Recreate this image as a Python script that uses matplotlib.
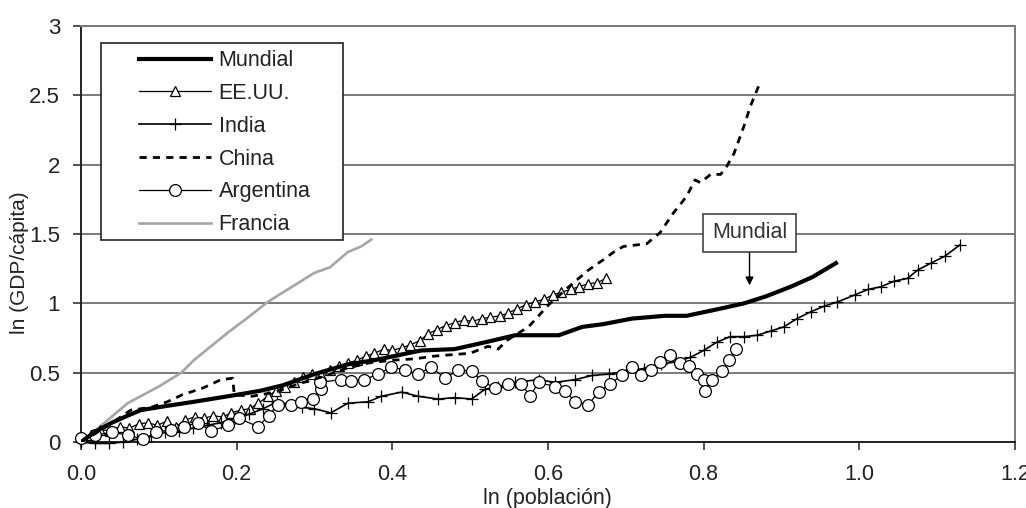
import matplotlib.pyplot as plt
from matplotlib.patches import Rectangle

plt.rcParams["font.family"] = ["Liberation Sans", "DejaVu Sans"]

# ln(población) vs ln(GDP/cápita), relative to the starting year of each series
mundial_x = [0.000, 0.020, 0.040, 0.060, 0.077, 0.110, 0.145, 0.189, 0.231, 0.260,
             0.300, 0.343, 0.377, 0.437, 0.480, 0.520, 0.558, 0.614, 0.644, 0.671,
             0.708, 0.750, 0.778, 0.820, 0.852, 0.880, 0.912, 0.940, 0.970]
mundial_y = [0.00, 0.08, 0.14, 0.19, 0.23, 0.26, 0.29, 0.33, 0.37, 0.41,
             0.49, 0.56, 0.59, 0.66, 0.67, 0.72, 0.77, 0.77, 0.83, 0.85,
             0.89, 0.91, 0.91, 0.96, 1.00, 1.05, 1.12, 1.19, 1.29]

eeuu_x = [0.000, 0.013, 0.025, 0.037, 0.050, 0.062, 0.074, 0.086, 0.098, 0.110,
          0.122, 0.134, 0.146, 0.158, 0.170, 0.182, 0.193, 0.205, 0.217, 0.228,
          0.240, 0.251, 0.262, 0.274, 0.285, 0.297, 0.309, 0.320, 0.332, 0.343,
          0.355, 0.366, 0.377, 0.389, 0.400, 0.412, 0.423, 0.435, 0.446, 0.457,
          0.469, 0.480, 0.492, 0.503, 0.515, 0.526, 0.538, 0.549, 0.560, 0.572,
          0.583, 0.595, 0.606, 0.617, 0.629, 0.640, 0.651, 0.663, 0.675]
eeuu_y = [0.00, 0.05, 0.09, 0.08, 0.11, 0.10, 0.13, 0.14, 0.12, 0.15,
          0.11, 0.16, 0.18, 0.17, 0.19, 0.18, 0.21, 0.23, 0.24, 0.28,
          0.33, 0.37, 0.40, 0.43, 0.47, 0.49, 0.48, 0.52, 0.55, 0.57,
          0.59, 0.62, 0.64, 0.67, 0.66, 0.68, 0.70, 0.73, 0.78, 0.81,
          0.84, 0.86, 0.88, 0.87, 0.89, 0.90, 0.91, 0.93, 0.96, 0.99,
          1.01, 1.03, 1.06, 1.08, 1.10, 1.12, 1.14, 1.15, 1.18]

india_x = [0.000, 0.018, 0.036, 0.054, 0.072, 0.090, 0.108, 0.126, 0.144, 0.162,
           0.180, 0.198, 0.216, 0.234, 0.252, 0.268, 0.284, 0.300, 0.321, 0.343,
           0.369, 0.386, 0.412, 0.433, 0.459, 0.480, 0.502, 0.519, 0.536, 0.558,
           0.588, 0.609, 0.635, 0.657, 0.678, 0.700, 0.723, 0.745, 0.765, 0.783,
           0.800, 0.817, 0.834, 0.852, 0.869, 0.886, 0.903, 0.920, 0.938, 0.955,
           0.972, 0.994, 1.011, 1.028, 1.045, 1.062, 1.075, 1.092, 1.110, 1.129]
india_y = [0.00, -0.01, -0.01, 0.00, 0.02, 0.04, 0.07, 0.08, 0.10, 0.12,
           0.14, 0.17, 0.20, 0.24, 0.29, 0.27, 0.25, 0.24, 0.21, 0.28,
           0.29, 0.33, 0.36, 0.33, 0.31, 0.32, 0.31, 0.38, 0.40, 0.43,
           0.45, 0.43, 0.45, 0.48, 0.49, 0.51, 0.53, 0.56, 0.58, 0.61,
           0.66, 0.72, 0.76, 0.76, 0.77, 0.80, 0.83, 0.89, 0.94, 0.98,
           1.01, 1.06, 1.10, 1.12, 1.16, 1.18, 1.24, 1.29, 1.34, 1.42]

china_x = [0.000, 0.030, 0.064, 0.090, 0.111, 0.130, 0.157, 0.180, 0.195, 0.197,
           0.220, 0.250, 0.280, 0.310, 0.340, 0.370, 0.400, 0.429, 0.455, 0.500,
           0.523, 0.536, 0.549, 0.575, 0.601, 0.627, 0.652, 0.670, 0.687, 0.697,
           0.727, 0.744, 0.761, 0.778, 0.789, 0.796, 0.809, 0.822, 0.830, 0.839,
           0.852, 0.860, 0.871]
china_y = [0.00, 0.10, 0.23, 0.25, 0.29, 0.34, 0.39, 0.45, 0.46, 0.34,
           0.33, 0.36, 0.42, 0.47, 0.53, 0.57, 0.59, 0.60, 0.62, 0.64,
           0.69, 0.67, 0.74, 0.83, 0.99, 1.12, 1.24, 1.31, 1.38, 1.41,
           1.43, 1.51, 1.65, 1.77, 1.89, 1.87, 1.93, 1.93, 1.99, 2.08,
           2.28, 2.42, 2.57]

argentina_x = [0.000, 0.018, 0.040, 0.060, 0.080, 0.097, 0.116, 0.132, 0.150, 0.167,
               0.189, 0.203, 0.228, 0.241, 0.253, 0.270, 0.283, 0.298, 0.308, 0.307,
               0.334, 0.347, 0.364, 0.382, 0.399, 0.416, 0.433, 0.450, 0.468, 0.485,
               0.502, 0.515, 0.532, 0.549, 0.566, 0.577, 0.588, 0.609, 0.622, 0.635,
               0.652, 0.665, 0.680, 0.695, 0.708, 0.720, 0.733, 0.744, 0.757, 0.770,
               0.781, 0.791, 0.800, 0.802, 0.811, 0.824, 0.832, 0.842]
argentina_y = [0.03, 0.05, 0.07, 0.05, 0.02, 0.07, 0.09, 0.11, 0.14, 0.08,
               0.12, 0.17, 0.11, 0.19, 0.27, 0.27, 0.29, 0.31, 0.38, 0.43,
               0.45, 0.44, 0.45, 0.49, 0.54, 0.52, 0.49, 0.54, 0.46, 0.52,
               0.51, 0.44, 0.39, 0.42, 0.42, 0.33, 0.43, 0.40, 0.37, 0.29,
               0.27, 0.36, 0.42, 0.48, 0.54, 0.48, 0.52, 0.58, 0.63, 0.57,
               0.55, 0.49, 0.45, 0.37, 0.45, 0.51, 0.59, 0.67]

francia_x = [0.000, 0.020, 0.060, 0.100, 0.129, 0.145, 0.167, 0.189, 0.215, 0.240,
             0.257, 0.280, 0.300, 0.320, 0.343, 0.360, 0.373]
francia_y = [0.00, 0.09, 0.28, 0.40, 0.50, 0.59, 0.69, 0.79, 0.90, 1.01,
             1.07, 1.15, 1.22, 1.26, 1.37, 1.41, 1.46]

grid_gray = "#7a7a7a"
text_color = "#222222"
fs = 15.5

fig = plt.figure(figsize=(10.26, 5.08), dpi=100)
ax = fig.add_axes([0.0789, 0.1299, 0.9103, 0.8189])

ax.plot(francia_x, francia_y, color="#a6a6a6", lw=1.9, label="Francia", zorder=3)
ax.plot(eeuu_x, eeuu_y, color="black", lw=0.9, marker="^", ms=7.5,
        mfc="white", mec="black", mew=0.9, label="EE.UU.", zorder=4)
ax.plot(india_x, india_y, color="black", lw=1.2, marker="+", ms=8,
        mew=0.9, label="India", zorder=4, clip_on=False)
ax.plot(argentina_x, argentina_y, color="black", lw=0.9, marker="o", ms=8.5,
        mfc="white", mec="black", mew=0.9, label="Argentina", zorder=5, clip_on=False)
ax.plot(china_x, china_y, color="black", lw=2.0, linestyle=(0, (2.6, 2.2)),
        label="China", zorder=6)
ax.plot(mundial_x, mundial_y, color="black", lw=3.0, label="Mundial", zorder=6)

ax.set_xlim(0, 1.2)
ax.set_ylim(0, 3)
ax.set_xticks([0.0, 0.2, 0.4, 0.6, 0.8, 1.0, 1.2])
ax.set_xticklabels(["0.0", "0.2", "0.4", "0.6", "0.8", "1.0", "1.2"])
ax.set_yticks([0, 0.5, 1, 1.5, 2, 2.5, 3])
ax.set_yticklabels(["0", "0.5", "1", "1.5", "2", "2.5", "3"])
ax.tick_params(axis="both", direction="out", length=6, width=1.1,
               labelsize=fs, colors=text_color)
ax.tick_params(axis="x", pad=10)
ax.tick_params(axis="y", pad=9, labelsize=16)

ax.yaxis.grid(True, color=grid_gray, lw=1.4)
ax.set_axisbelow(True)
for side in ("left", "bottom"):
    ax.spines[side].set_color(text_color)
    ax.spines[side].set_linewidth(1.4)
for side in ("top", "right"):
    ax.spines[side].set_color(grid_gray)
    ax.spines[side].set_linewidth(1.4)

ax.set_xlabel("ln (población)", fontsize=fs, color=text_color, labelpad=2)
ax.set_ylabel("ln (GDP/cápita)", fontsize=15, color=text_color)
ax.yaxis.set_label_coords(-0.066, 0.43)
ax.yaxis.label.set_va("center")

ax.annotate("Mundial", xy=(0.859, 1.13), xytext=(0.859, 1.51),
            ha="center", va="center", fontsize=fs, color="#333333",
            bbox=dict(boxstyle="square,pad=0.4", fc="white", ec="#333333", lw=1.1),
            arrowprops=dict(arrowstyle="-|>", color="black", lw=1.0,
                            mutation_scale=12, shrinkA=0, shrinkB=0),
            zorder=7)

# legend frame drawn separately so the entries can sit inset from its left edge
ax.add_patch(Rectangle((0.0214, 0.4856), 0.2594, 0.4736, transform=ax.transAxes,
                       fc="white", ec=text_color, lw=1.2, zorder=8))
handles, labels = ax.get_legend_handles_labels()
order = ["Mundial", "EE.UU.", "India", "China", "Argentina", "Francia"]
handles = [handles[labels.index(name)] for name in order]
leg = ax.legend(handles, order, loc="upper left", bbox_to_anchor=(0.0622, 0.942),
                frameon=False, fontsize=fs, handlelength=3.35, handletextpad=0.35,
                labelspacing=0.55, borderpad=0, borderaxespad=0, numpoints=1)
leg.set_zorder(9)
for text in leg.get_texts():
    text.set_color(text_color)

fig.savefig("out.png", dpi=100)
